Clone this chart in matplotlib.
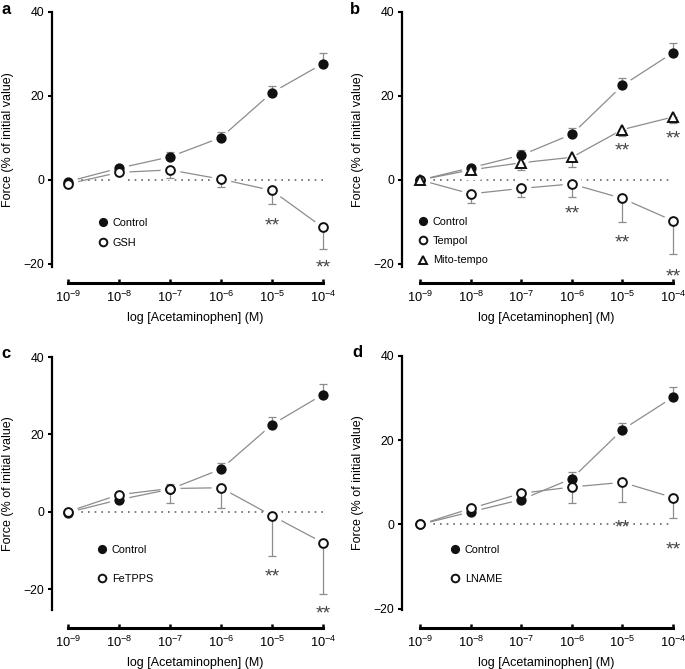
import matplotlib
matplotlib.use("Agg")
import matplotlib.pyplot as plt
from matplotlib.lines import Line2D
from matplotlib import transforms

plt.rcParams['font.family'] = ['Liberation Sans', 'DejaVu Sans']
plt.rcParams['mathtext.fontset'] = 'custom'
plt.rcParams['mathtext.rm'] = 'Liberation Sans'
plt.rcParams['mathtext.it'] = 'Liberation Sans:italic'

# ---- data ----
log_conc = [-9, -8, -7, -6, -5, -4]
xtick_labels = [r'$\mathregular{10^{-9}}$', r'$\mathregular{10^{-8}}$', r'$\mathregular{10^{-7}}$',
                r'$\mathregular{10^{-6}}$', r'$\mathregular{10^{-5}}$', r'$\mathregular{10^{-4}}$']
yticks = [-20, 0, 20, 40]

# panel a
a_ctrl = [-0.4, 2.8, 5.5, 10.1, 20.8, 27.7]
a_ctrl_err = [0, 0.3, 1.2, 1.4, 1.6, 2.6]
a_gsh = [-0.95, 1.8, 2.4, 0.2, -2.5, -11.3]
a_gsh_err = [0, 0.3, 1.9, 1.9, 3.2, 5.2]
a_star_x = [-5, -4]
a_star_y = [-10.1, -20.2]

# panel b
b_ctrl = [0, 2.9, 5.9, 10.9, 22.5, 30.3]
b_ctrl_err = [0, 0.3, 1.2, 1.5, 1.8, 2.4]
b_tempol = [0, -3.3, -2.0, -0.95, -4.4, -9.7]
b_tempol_err = [0, 2.2, 2.0, 3.1, 5.5, 7.9]
b_mito = [0, 2.4, 4.1, 5.4, 12.0, 15.0]
b_mito_err = [0, 0.3, 1.7, 2.2, 1.5, 1.4]
b_star_x = [-6, -5, -5, -4, -4]
b_star_y = [-7.3, 7.7, -14.1, 10.7, -22.2]

# panel c
c_ctrl = [-0.2, 3.1, 5.8, 11.0, 22.5, 30.3]
c_ctrl_err = [0, 0.3, 1.3, 1.6, 1.9, 2.6]
c_fetpps = [0, 4.4, 6.0, 6.2, -1.0, -8.0]
c_fetpps_err = [0, 0.3, 3.8, 5.3, 10.4, 13.2]
c_star_x = [-5, -4]
c_star_y = [-15.9, -25.4]

# panel d
d_ctrl = [0, 3.0, 5.9, 10.9, 22.5, 30.2]
d_ctrl_err = [0, 0.3, 1.2, 1.6, 1.7, 2.4]
d_lname = [0, 3.8, 7.4, 8.9, 10.0, 6.4]
d_lname_err = [0, 0.3, 0.6, 3.9, 4.6, 4.8]
d_star_x = [-5, -4]
d_star_y = [0.0, -5.3]

W, H = 685, 669
GREY = '#8c8c8c'
LEG_FS = 7.8
fig = plt.figure(figsize=(W / 100, H / 100), dpi=100)


def px_axes(left, top, right, bottom):
    return fig.add_axes([left / W, 1 - bottom / H, (right - left) / W, (bottom - top) / H])


def draw_panel(ax, series, star_x, star_y, xlim, ylim, xaxis_off, leg_xy, leg_gap, box):
    ax.set_xlim(*xlim)
    ax.set_ylim(*ylim)
    ax.hlines(0, log_conc[0], log_conc[-1], colors='#666666', linestyles=(0, (1, 3)), lw=1.2, zorder=0.5)
    handles = []
    for y, err, up, marker, filled, label, ms in series:
        ax.plot(log_conc, y, color=GREY, lw=0.9, zorder=1)
        yerr = [[0] * len(err), err] if up else [err, [0] * len(err)]
        ax.errorbar(log_conc, y, yerr=yerr, fmt='none', ecolor=GREY, elinewidth=0.9,
                    capsize=2.6, capthick=0.9, zorder=2.5)
        ax.plot(log_conc, y, ls='none', marker=marker, ms=ms + 7, mfc='white', mec='white', zorder=2)
        fc = '#111111' if filled else 'white'
        ax.plot(log_conc, y, ls='none', marker=marker, ms=ms, mfc=fc, mec='#111111', mew=1.4,
                zorder=3, clip_on=False)
        handles.append(Line2D([], [], ls='none', marker=marker, ms=ms - 0.8, mfc=fc, mec='#111111',
                              mew=1.4, label=label))
    star_tr = transforms.offset_copy(ax.transData, fig=fig, y=-2.5, units='points')
    for sx, sy in zip(star_x, star_y):
        ax.text(sx, sy, '**', transform=star_tr, ha='center', va='center', fontsize=14, color='#444444')

    for s in ['top', 'right']:
        ax.spines[s].set_visible(False)
    ax.spines['left'].set_linewidth(1.6)
    ax.spines['left'].set_bounds(ylim[0], 40)
    ax.spines['bottom'].set_linewidth(2.2)
    ax.spines['bottom'].set_position(('outward', xaxis_off))
    ax.spines['bottom'].set_bounds(log_conc[0], log_conc[-1])
    ax.set_xticks(log_conc)
    ax.set_xticklabels(xtick_labels)
    ax.set_yticks(yticks)
    ax.tick_params(axis='x', direction='in', length=3, width=1.8, labelsize=9.3, pad=5)
    ax.tick_params(axis='y', direction='out', length=3, width=1.5, labelsize=8.8, pad=2.5)
    ax.set_ylabel('Force (% of initial value)', fontsize=9)
    ax.set_xlabel('log [Acetaminophen] (M)', fontsize=9)
    left, top, right, bottom = box
    ax.yaxis.set_label_coords(-38 / (right - left), 0.5)
    xmid = (log_conc[0] + log_conc[-1]) / 2
    ax.xaxis.set_label_coords((xmid - xlim[0]) / (xlim[1] - xlim[0]),
                              -(xaxis_off / 0.72 + 29) / (bottom - top))

    n = len(handles)
    em = LEG_FS / 0.72
    lx = (leg_xy[0] - 0.4 * em - left) / (right - left)
    ly = 1 - (leg_xy[1] + leg_gap * (n - 1) / 2 - top) / (bottom - top)
    ax.legend(handles=handles, loc='center left', bbox_to_anchor=(lx, ly), frameon=False,
              fontsize=LEG_FS, handlelength=0.8, handletextpad=0.5, borderpad=0, borderaxespad=0,
              labelspacing=(leg_gap - 0.976 * em) / em, numpoints=1)


box_a = (52, 12, 328, 266.5)
box_b = (402, 12, 678, 266.5)
box_c = (52, 357, 328, 610)
box_d = (402, 356, 678, 610)

ax_a = px_axes(*box_a)
draw_panel(ax_a, [(a_ctrl, a_ctrl_err, True, 'o', True, 'Control', 6),
                  (a_gsh, a_gsh_err, False, 'o', False, 'GSH', 6.3)],
           a_star_x, a_star_y, (-9.31, -3.9), (-20.6, 40), 11.9, (103, 223), 20, box_a)

ax_b = px_axes(*box_b)
draw_panel(ax_b, [(b_ctrl, b_ctrl_err, True, 'o', True, 'Control', 6),
                  (b_tempol, b_tempol_err, False, 'o', False, 'Tempol', 6.3),
                  (b_mito, b_mito_err, False, '^', False, 'Mito-tempo', 6.5)],
           b_star_x, b_star_y, (-9.36, -3.9), (-20.6, 40), 11.9, (423, 221), 20, box_b)

ax_c = px_axes(*box_c)
draw_panel(ax_c, [(c_ctrl, c_ctrl_err, True, 'o', True, 'Control', 6),
                  (c_fetpps, c_fetpps_err, False, 'o', False, 'FeTPPS', 6.3)],
           c_star_x, c_star_y, (-9.31, -3.9), (-25.4, 40), 13, (102, 550), 29, box_c)

ax_d = px_axes(*box_d)
draw_panel(ax_d, [(d_ctrl, d_ctrl_err, True, 'o', True, 'Control', 6),
                  (d_lname, d_lname_err, False, 'o', False, 'LNAME', 6.3)],
           d_star_x, d_star_y, (-9.36, -3.9), (-20.3, 40), 13, (455, 550), 29, box_d)

for lab, x, y in [('a', 1, 2), ('b', 350, 2), ('c', 1, 346), ('d', 352, 345)]:
    fig.text(x / W, 1 - y / H, lab, fontsize=12, fontweight='bold', va='top', ha='left')

fig.savefig('out.png', dpi=100)
